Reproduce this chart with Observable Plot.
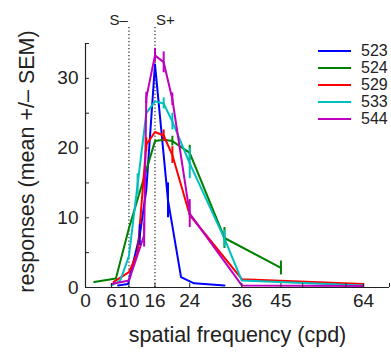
<!DOCTYPE html>
<html><head><meta charset="utf-8">
<script src="https://cdn.jsdelivr.net/npm/d3@7"></script>
<script src="https://cdn.jsdelivr.net/npm/@observablehq/plot@0.6"></script>
<style>
body{margin:0;background:#fff;}
#wrap{position:relative;width:391px;height:354px;font-family:"Liberation Sans",Arial,sans-serif;}
#legend{position:absolute;left:318px;top:42px;background:#fff;}
.row{display:flex;align-items:center;height:17px;}
.sw{width:33px;height:2px;margin-right:10px;}
.lab{font-size:16px;color:#222;line-height:16px;}
</style></head><body><div id="wrap"><div id="legend"></div></div>
<script>
// series
const seriesNames = ["523", "524", "529", "533", "544"];
const seriesColors = ["#0000ff", "#008000", "#ff0000", "#00bfbf", "#bf00bf"];

const x523 = [7.5, 9.8, 12.5, 14, 16, 19, 22, 25, 32];
const y523 = [0.3, 0.5, 7.5, 14, 32, 12.5, 1.5, 0.6, 0.3];
const e523 = [0, 0, 1.5, 0, 0, 2.5, 0, 0, 0];

const x524 = [2, 7, 10, 16, 18, 20, 24, 32, 45];
const y524 = [0.8, 1.3, 8.5, 21, 21.2, 21, 19.3, 7.1, 2.8];
const e524 = [0, 0, 0, 0, 0, 0.7, 1.1, 1.5, 1];

const x529 = [6.5, 10, 12, 14, 16, 18, 20, 24, 36, 64];
const y529 = [0.8, 2.2, 5, 20.5, 22.3, 21.8, 19, 10.4, 1.2, 0.5];
const e529 = [0, 0, 0, 1, 0, 0.8, 1.2, 0, 0, 0];

const x533 = [6, 8, 10, 12, 14, 16, 18, 20, 24, 32, 36, 64];
const y533 = [0.3, 1, 4.5, 14.8, 25, 26.7, 26.4, 23.8, 17.8, 7, 1, 0.3];
const e533 = [0, 0, 0, 1.5, 0, 0, 0.8, 1.2, 2.2, 1.2, 0, 0];

const x544 = [6, 10, 13.5, 14, 16, 18, 20, 24, 36, 64];
const y544 = [0.5, 1, 7.5, 27.2, 33.3, 32.3, 27, 10.6, 0.3, 0.2];
const e544 = [0, 0, 1.7, 0.8, 1, 1.5, 0.9, 2, 0, 0];

// axes
const xTickValues = [0, 6, 10, 16, 24, 36, 45, 64];
const xTickMarks = [0, 6, 10, 16, 24, 36, 45, 50, 60, 64, 70];
const yTickValues = [0, 10, 20, 30];
const yTickMarks = [0, 5, 10, 15, 20, 25, 30, 35];
const sPositions = [10, 16];
const sLabels = ["S–", "S+"];
const xLabel = "spatial frequency (cpd)";
const yLabel = "responses (mean +/– SEM)";

const table = [[x523, y523, e523], [x524, y524, e524], [x529, y529, e529], [x533, y533, e533], [x544, y544, e544]];
const rows = [];
table.forEach(([xs, ys, es], k) => xs.forEach((x, i) => rows.push({s: seriesNames[k], x, y: ys[i], e: es[i]})));

const font = "Liberation Sans, Arial, sans-serif";
const chart = Plot.plot({
  width: 391, height: 354,
  marginLeft: 85, marginRight: 2, marginTop: 43, marginBottom: 67,
  style: {fontFamily: font, background: "white", color: "#222", overflow: "visible"},
  x: {domain: [0, 70]},
  y: {domain: [0, 35]},
  color: {domain: seriesNames, range: seriesColors},
  marks: [
    Plot.ruleX(sPositions, {stroke: "#444", strokeWidth: 1.4, strokeDasharray: "1.3,2.2", insetTop: -16}),
    Plot.text([sPositions[0]], {x: d => d, text: [sLabels[0]], frameAnchor: "top", lineAnchor: "middle", dy: -23, dx: -1, textAnchor: "end", fontSize: 15, fill: "#222"}),
    Plot.text([sPositions[1]], {x: d => d, text: [sLabels[1]], frameAnchor: "top", lineAnchor: "middle", dy: -23, dx: 1, textAnchor: "start", fontSize: 15, fill: "#222"}),
    Plot.line(rows, {x: "x", y: "y", z: "s", stroke: "s", strokeWidth: 2}),
    Plot.ruleX(rows.filter(d => d.e > 0), {x: "x", y1: d => d.y - d.e, y2: d => d.y + d.e, stroke: "s", strokeWidth: 2}),
    Plot.ruleY([0], {stroke: "#222", strokeWidth: 1.2}),
    Plot.ruleX([0], {stroke: "#222", strokeWidth: 1.2}),
    Plot.axisX({ticks: xTickMarks, tickSize: -4, tickFormat: () => "", label: null, stroke: "#222"}),
    Plot.axisX({ticks: xTickValues, tickSize: 0, tickPadding: 6, fontSize: 19, label: null, fill: "#222"}),
    Plot.axisY({ticks: yTickMarks, tickSize: -4, tickFormat: () => "", label: null, stroke: "#222"}),
    Plot.axisY({ticks: yTickValues, tickSize: 0, tickPadding: 7, fontSize: 19, label: null, fill: "#222"}),
    Plot.text([xLabel], {frameAnchor: "bottom", lineAnchor: "middle", textAnchor: "middle", dy: 48, fontSize: 21.5, fill: "#222"}),
    Plot.text([yLabel], {frameAnchor: "left", lineAnchor: "middle", textAnchor: "middle", dx: -58, dy: -4, rotate: -90, fontSize: 21.5, fill: "#222"})
  ]
});
document.getElementById("wrap").prepend(chart);

const legend = document.getElementById("legend");
seriesNames.forEach((n, i) => {
  const r = document.createElement("div"); r.className = "row";
  const sw = document.createElement("div"); sw.className = "sw"; sw.style.background = seriesColors[i];
  const lb = document.createElement("span"); lb.className = "lab"; lb.textContent = n;
  r.append(sw, lb); legend.append(r);
});
</script>
</body></html>
